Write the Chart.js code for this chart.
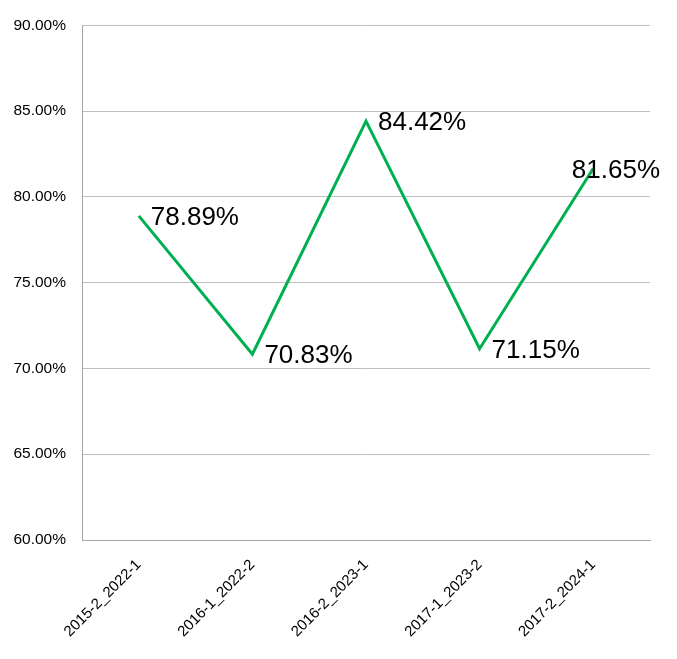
<!DOCTYPE html>
<html>
<head>
<meta charset="utf-8">
<script src="https://cdn.jsdelivr.net/npm/chart.js@4.4.1/dist/chart.umd.min.js"></script>
<style>
  html, body { margin: 0; padding: 0; background: #fff; }
  #wrap { width: 677px; height: 659px; }
</style>
</head>
<body>
<div id="wrap"><canvas id="lineChart" width="677" height="659"></canvas></div>
<script>
const categories = ['2015-2_2022-1', '2016-1_2022-2', '2016-2_2023-1', '2017-1_2023-2', '2017-2_2024-1'];
const rates = [78.89, 70.83, 84.42, 71.15, 81.65];
const yTicks = [60, 65, 70, 75, 80, 85, 90];

// value labels drawn to the right of each point, kept inside the canvas
const valueLabels = {
    id: 'valueLabels',
    afterDatasetsDraw(chart) {
        const ctx = chart.ctx;
        const meta = chart.getDatasetMeta(0);
        ctx.save();
        ctx.font = '26px "Liberation Sans", Arial, sans-serif';
        ctx.fillStyle = '#000';
        ctx.textBaseline = 'middle';
        ctx.textAlign = 'left';
        meta.data.forEach((pt, i) => {
            const txt = rates[i].toFixed(2) + '%';
            const w = ctx.measureText(txt).width;
            let x = pt.x + 12;
            if (x + w > chart.width - 17) x = chart.width - 17 - w;
            ctx.fillText(txt, x, pt.y + 2);
        });
        ctx.restore();
    }
};

const ctx = document.getElementById('lineChart').getContext('2d');
new Chart(ctx, {
    type: 'line',
    data: {
        labels: categories,
        datasets: [{
            label: 'Rate',
            data: rates,
            borderColor: '#00B050',
            borderWidth: 3,
            pointRadius: 0,
            tension: 0,
            fill: false
        }]
    },
    options: {
        responsive: false,
        animation: false,
        layout: { padding: { top: 21, right: 27, left: 0, bottom: 0 } },
        plugins: {
            legend: { display: false },
            tooltip: { enabled: false }
        },
        scales: {
            x: {
                offset: true,
                grid: { display: false, drawTicks: false },
                border: { color: '#A6A6A6', width: 1 },
                ticks: {
                    minRotation: 45,
                    maxRotation: 45,
                    padding: 16,
                    color: '#000',
                    font: { family: '"Liberation Sans", Arial, sans-serif', size: 15 }
                },
                afterFit(scale) { scale.height = 119; }
            },
            y: {
                min: 60,
                max: 90,
                afterBuildTicks(scale) { scale.ticks = yTicks.map(v => ({ value: v })); },
                grid: { color: '#BFBFBF', drawTicks: false },
                border: { color: '#A6A6A6', width: 1 },
                ticks: {
                    padding: 16,
                    color: '#000',
                    font: { family: '"Liberation Sans", Arial, sans-serif', size: 15.5 },
                    callback: v => v.toFixed(2) + '%'
                },
                afterFit(scale) { scale.width = 82; }
            }
        }
    },
    plugins: [valueLabels]
});
</script>
</body>
</html>
